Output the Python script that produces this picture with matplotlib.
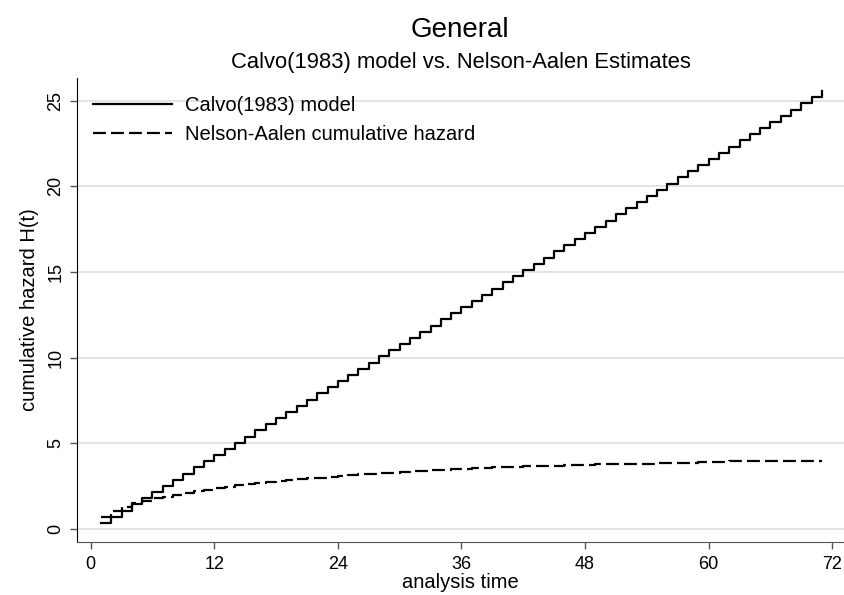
#!/usr/bin/env python3
"""Calvo(1983) model vs. Nelson-Aalen cumulative hazard (step lines, Stata look)."""

import matplotlib
matplotlib.use("Agg")
import matplotlib.pyplot as plt

plt.rcParams["font.family"] = ["Liberation Sans", "DejaVu Sans"]

# analysis time (months)
months = list(range(1, 72))

# Calvo(1983) model cumulative hazard
calvo_h = [
    0.36, 0.72, 1.08, 1.44, 1.80, 2.16, 2.52, 2.88, 3.24, 3.60,
    3.96, 4.32, 4.68, 5.04, 5.40, 5.76, 6.12, 6.48, 6.84, 7.20,
    7.56, 7.92, 8.28, 8.64, 9.00, 9.36, 9.72, 10.08, 10.44, 10.80,
    11.16, 11.52, 11.88, 12.24, 12.60, 12.96, 13.32, 13.68, 14.04, 14.40,
    14.76, 15.12, 15.48, 15.84, 16.20, 16.56, 16.92, 17.28, 17.64, 18.00,
    18.36, 18.72, 19.08, 19.44, 19.80, 20.16, 20.52, 20.88, 21.24, 21.60,
    21.96, 22.32, 22.68, 23.04, 23.40, 23.76, 24.12, 24.48, 24.84, 25.20,
    25.56,
]

# Nelson-Aalen cumulative hazard
nelson_aalen_h = [
    0.72, 1.05, 1.30, 1.50, 1.65, 1.80, 1.90, 2.00, 2.10, 2.20,
    2.30, 2.38, 2.45, 2.60, 2.66, 2.70, 2.75, 2.80, 2.86, 2.92,
    2.96, 3.00, 3.05, 3.10, 3.15, 3.20, 3.24, 3.27, 3.30, 3.34,
    3.37, 3.40, 3.43, 3.46, 3.50, 3.53, 3.56, 3.58, 3.60, 3.62,
    3.64, 3.66, 3.68, 3.69, 3.70, 3.72, 3.74, 3.77, 3.78, 3.79,
    3.80, 3.81, 3.82, 3.83, 3.86, 3.87, 3.88, 3.88, 3.89, 3.89,
    3.90, 3.95, 3.96, 3.96, 3.96, 3.97, 3.97, 3.97, 3.97, 3.97,
    3.97,
]

x_ticks = [0, 12, 24, 36, 48, 60, 72]
y_ticks = [0, 5, 10, 15, 20, 25]

fig = plt.figure(figsize=(8.44, 5.95), dpi=100)
ax = fig.add_axes([0.0918, 0.0896, 0.9082, 0.7793])

for y in y_ticks:
    ax.axhline(y, color="#e4e4e4", lw=1.4, zorder=0)

ax.plot(months, calvo_h, drawstyle="steps-post", color="black", lw=1.6,
        label="Calvo(1983) model")
ax.plot(months, nelson_aalen_h, drawstyle="steps-post", color="black", lw=1.6,
        dashes=(5.8, 2.3), label="Nelson-Aalen cumulative hazard")

ax.set_xlim(-1.28, 73.14)
ax.set_ylim(-0.73, 26.32)
ax.set_xticks(x_ticks)
ax.set_yticks(y_ticks)
ax.tick_params(axis="both", labelsize=13, length=5, width=1, color="#555555")
ax.tick_params(axis="x", pad=5)
ax.tick_params(axis="y", pad=4.5)
for lbl in ax.get_yticklabels():
    lbl.set_rotation(90)
    lbl.set_va("center")

for side in ("top", "right"):
    ax.spines[side].set_visible(False)
ax.spines["left"].set_color("black")
ax.spines["bottom"].set_color("#555555")

ax.set_xlabel("analysis time", fontsize=14.5, labelpad=0.5)
ax.set_ylabel("cumulative hazard H(t)", fontsize=14.5, labelpad=6)

ax.legend(loc="upper left", bbox_to_anchor=(0.0098, 0.9795), frameon=False,
          fontsize=14.5, handlelength=3.9, handletextpad=0.65,
          labelspacing=0.5, borderaxespad=0.0, borderpad=0.4)

# titles placed by baseline
fig.text(0.545, 0.938, "General", ha="center", va="baseline", fontsize=20)
fig.text(0.546, 0.886, "Calvo(1983) model vs. Nelson-Aalen Estimates",
         ha="center", va="baseline", fontsize=15.8)

fig.savefig("out.png", dpi=100)
